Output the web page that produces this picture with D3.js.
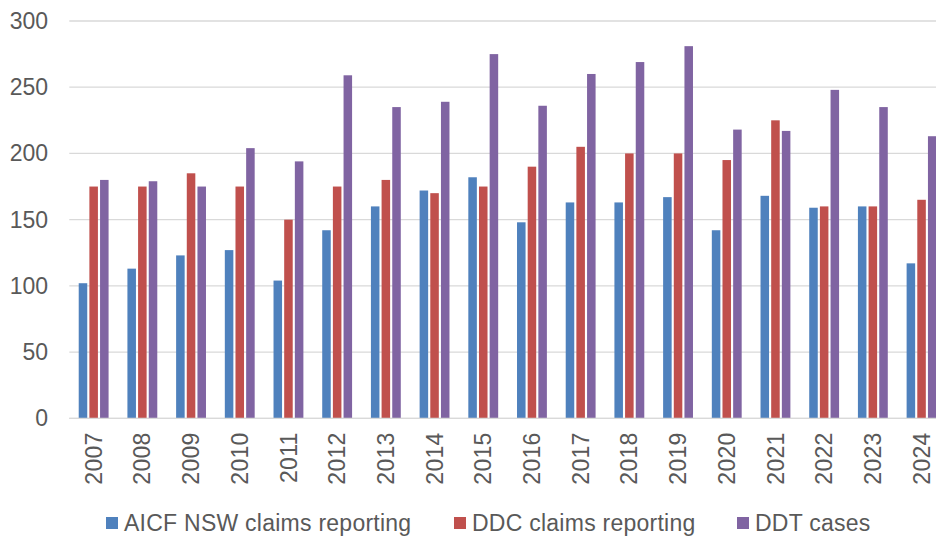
<!DOCTYPE html>
<html>
<head>
<meta charset="utf-8">
<script src="https://cdn.jsdelivr.net/npm/d3@7"></script>
<style>
  body { margin: 0; background: #fff; }
  svg { display: block; font-family: "Liberation Sans", Arial, sans-serif; }
</style>
</head>
<body>
<div id="chart"></div>
<script>
var years = ['2007', '2008', '2009', '2010', '2011', '2012', '2013', '2014', '2015',
             '2016', '2017', '2018', '2019', '2020', '2021', '2022', '2023', '2024']
var seriesNames = ['AICF NSW claims reporting', 'DDC claims reporting', 'DDT cases']
var aicf = [102, 113, 123, 127, 104, 142, 160, 172, 182, 148, 163, 163, 167, 142, 168, 159, 160, 117]
var ddc  = [175, 175, 185, 175, 150, 175, 180, 170, 175, 190, 205, 200, 200, 195, 225, 160, 160, 165]
var ddt  = [180, 179, 175, 204, 194, 259, 235, 239, 275, 236, 260, 269, 281, 218, 217, 248, 235, 213]
var yTicks = [0, 50, 100, 150, 200, 250, 300]
var colors = ['#4f81bd', '#c0504d', '#8064a2']

var width = 936, height = 538
var margin = { top: 21, left: 69.3, bottom: 119.7 }
var plotRight = margin.left + 48.7 * years.length   // chart runs past the right edge
var plotBottom = height - margin.bottom

var svg = d3.select('#chart').append('svg')
  .attr('width', width)
  .attr('height', height)

var x0 = d3.scaleBand()
  .domain(years)
  .range([margin.left, plotRight])
  .paddingInner(0.343)
  .paddingOuter(0.343 / 2)

var x1 = d3.scaleBand()
  .domain(d3.range(seriesNames.length))
  .range([0, x0.bandwidth()])
  .paddingInner(0.2)
  .paddingOuter(0.1)

var y = d3.scaleLinear()
  .domain([0, 300])
  .range([plotBottom, margin.top])

// gridlines
svg.append('g')
  .selectAll('line')
  .data(yTicks)
  .enter().append('line')
    .attr('x1', margin.left)
    .attr('x2', width)
    .attr('y1', function(d) { return y(d) })
    .attr('y2', function(d) { return y(d) })
    .attr('stroke', '#d9d9d9')
    .attr('stroke-width', 1.3)

// y axis labels
var yAxis = d3.axisLeft(y).tickValues(yTicks).tickSize(0).tickPadding(0)
var yG = svg.append('g')
  .attr('transform', 'translate(48,0)')
  .call(yAxis)
yG.select('.domain').remove()
yG.selectAll('text')
  .attr('fill', '#595959')
  .attr('font-size', 23)
  .attr('font-family', '"Liberation Sans", Arial, sans-serif')

// bars
var seriesData = [aicf, ddc, ddt]
var groups = svg.append('g')
  .selectAll('g')
  .data(years)
  .enter().append('g')
    .attr('transform', function(d) { return 'translate(' + x0(d) + ',0)' })

groups.selectAll('rect')
  .data(function(d, i) { return seriesData.map(function(s, k) { return { k: k, v: s[i] } }) })
  .enter().append('rect')
    .attr('x', function(d) { return x1(d.k) })
    .attr('width', x1.bandwidth())
    .attr('y', function(d) { return y(d.v) })
    .attr('height', function(d) { return y(0) - y(d.v) })
    .attr('fill', function(d) { return colors[d.k] })

// x axis
var xAxis = d3.axisBottom(x0).tickSize(0).tickPadding(0)
var xG = svg.append('g')
  .attr('transform', 'translate(0,' + plotBottom + ')')
  .call(xAxis)
xG.select('.domain')
  .attr('stroke', '#d9d9d9')
  .attr('stroke-width', 1.3)
  .attr('d', 'M' + margin.left + ',0H' + width)
xG.selectAll('text')
  .attr('fill', '#595959')
  .attr('font-size', 23)
  .attr('font-family', '"Liberation Sans", Arial, sans-serif')
  .attr('letter-spacing', 0.3)
  .attr('text-anchor', 'end')
  .attr('dy', '0.35em')
  .attr('y', 0)
  .attr('transform', 'translate(0,14) rotate(-90)')

// legend
var legendX = [106, 454, 737]
var legend = svg.append('g')
  .selectAll('g')
  .data(seriesNames)
  .enter().append('g')
    .attr('transform', function(d, i) { return 'translate(' + legendX[i] + ',0)' })

legend.append('rect')
  .attr('x', 0)
  .attr('y', 517)
  .attr('width', 12)
  .attr('height', 12)
  .attr('fill', function(d, i) { return colors[i] })

legend.append('text')
  .attr('x', 18)
  .attr('y', 530.5)
  .attr('fill', '#595959')
  .attr('font-size', 23)
  .attr('letter-spacing', 0.25)
  .text(function(d) { return d })
</script>
</body>
</html>
